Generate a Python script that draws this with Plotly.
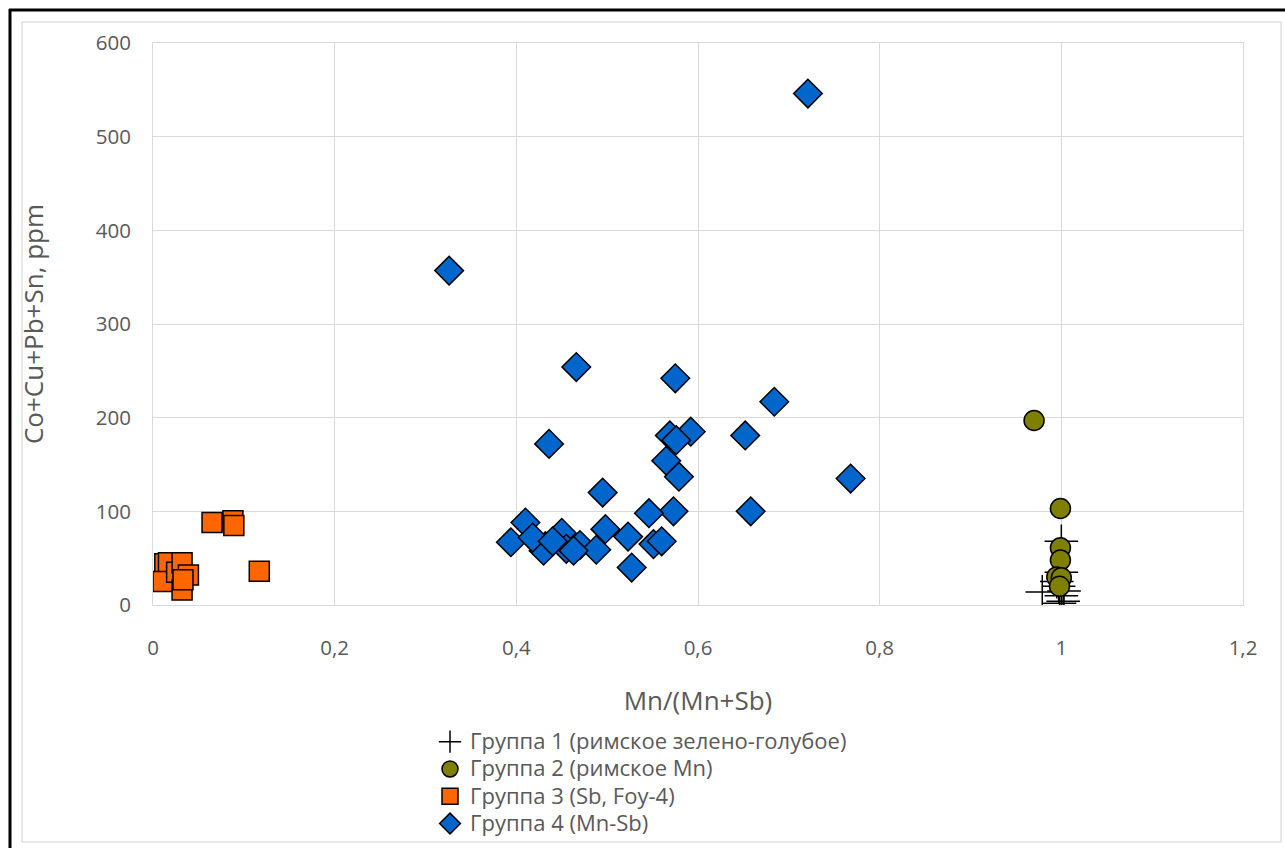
import plotly.graph_objects as go

# Group 1 (crosses)
g1_x = [0.979, 1.000, 1.000, 0.997, 1.000, 1.002, 0.995, 1.003, 0.998]
g1_y = [14, 68, 35, 20, 10, 4, 25, 15, 2]
# Group 2 (circles)
g2_x = [0.970, 0.999, 0.999, 0.999, 0.995, 1.000, 0.998]
g2_y = [197, 103, 61, 48, 30, 29, 20]
# Group 3 (squares)
g3_x = [0.065, 0.088, 0.089, 0.117, 0.013, 0.017, 0.011, 0.026, 0.032, 0.032, 0.039, 0.033]
g3_y = [88, 90, 85, 36, 44, 45, 25, 35, 45, 16, 32, 27]
# Group 4 (diamonds)
g4_x = [0.721, 0.326, 0.466, 0.575, 0.436, 0.684, 0.592, 0.569, 0.576, 0.652,
        0.565, 0.579, 0.768, 0.495, 0.658, 0.573, 0.546, 0.410, 0.498, 0.450,
        0.523, 0.551, 0.560, 0.394, 0.432, 0.470, 0.455, 0.488, 0.430, 0.527,
        0.418, 0.440, 0.463]
g4_y = [546, 357, 254, 242, 172, 217, 185, 181, 176, 181,
        154, 137, 135, 120, 100, 100, 98, 88, 81, 77,
        73, 65, 68, 67, 63, 64, 60, 59, 58, 40,
        72, 68, 58]

names = ["Группа 1 (римское зелено-голубое)", "Группа 2 (римское Mn)",
         "Группа 3 (Sb, Foy-4)", "Группа 4 (Mn-Sb)"]

x_ticks = [0, 0.2, 0.4, 0.6, 0.8, 1.0, 1.2]
x_tick_text = ["0", "0,2", "0,4", "0,6", "0,8", "1", "1,2"]
y_ticks = [0, 100, 200, 300, 400, 500, 600]

FONT = "Open Sans"
TXT = "#595959"


def leg(name):
    # larger legend text while keeping the compact legend row spacing
    return '<span style="font-size:22px">' + name + '</span>'


fig = go.Figure()
fig.add_trace(go.Scatter(x=g1_x, y=g1_y, mode="markers", name=leg(names[0]),
                         marker=dict(symbol="cross-thin-open", size=24, color="black",
                                     line=dict(color="black", width=1.5))))
fig.add_trace(go.Scatter(x=g2_x, y=g2_y, mode="markers", name=leg(names[1]),
                         marker=dict(symbol="circle", size=20, color="#808000",
                                     line=dict(color="black", width=1.5))))
fig.add_trace(go.Scatter(x=g3_x, y=g3_y, mode="markers", name=leg(names[2]),
                         marker=dict(symbol="square", size=20, color="#FF6600",
                                     line=dict(color="black", width=1.5))))
fig.add_trace(go.Scatter(x=g4_x, y=g4_y, mode="markers", name=leg(names[3]),
                         marker=dict(symbol="diamond", size=22, color="#0066CC",
                                     line=dict(color="black", width=1.5))))

W, H = 1285, 848
L, R, T, B = 153, 42, 43, 243
pw, ph = W - L - R, H - T - B


def px(x):
    return (x - L) / pw


def py(y):
    return (H - B - y) / ph


shapes = [
    dict(type="line", xref="paper", yref="paper", x0=px(9), x1=px(1300), y0=py(10), y1=py(10),
         line=dict(color="black", width=3)),
    dict(type="line", xref="paper", yref="paper", x0=px(10), x1=px(10), y0=py(9), y1=py(860),
         line=dict(color="black", width=3)),
    dict(type="rect", xref="paper", yref="paper", x0=px(22), x1=px(1281), y0=py(22), y1=py(842),
         line=dict(color="#d0d0d0", width=1)),
]

fig.update_layout(
    width=W, height=H,
    margin=dict(l=L, r=R, t=T, b=B, autoexpand=False),
    paper_bgcolor="white", plot_bgcolor="white",
    font=dict(family=FONT, size=20, color=TXT),
    shapes=shapes,
    xaxis=dict(range=[0, 1.2], tickvals=x_ticks, ticktext=x_tick_text,
               showgrid=True, gridcolor="#d9d9d9", gridwidth=1,
               showline=True, linecolor="#d9d9d9", mirror=True, zeroline=False,
               ticks="", ticklabelstandoff=24,
               title=dict(text="Mn/(Mn+Sb)", font=dict(size=26, color=TXT), standoff=32),
               tickfont=dict(size=20.5, color=TXT)),
    yaxis=dict(range=[0, 600], tickvals=y_ticks,
               showgrid=True, gridcolor="#d9d9d9", gridwidth=1,
               showline=True, linecolor="#d9d9d9", mirror=True, zeroline=False,
               ticks="", ticklabelstandoff=17,
               title=dict(text="Co+Cu+Pb+Sn, ppm", font=dict(size=26, color=TXT), standoff=44),
               tickfont=dict(size=20.5, color=TXT)),
    legend=dict(x=px(430), y=py(723), xanchor="left", yanchor="top",
                font=dict(family=FONT, size=18.7, color=TXT),
                bgcolor="rgba(0,0,0,0)", itemwidth=30, tracegroupgap=0),
    showlegend=True,
)

fig.write_html("out.html", config={"displayModeBar": False},
               post_script="document.body.style.margin='0px';")
